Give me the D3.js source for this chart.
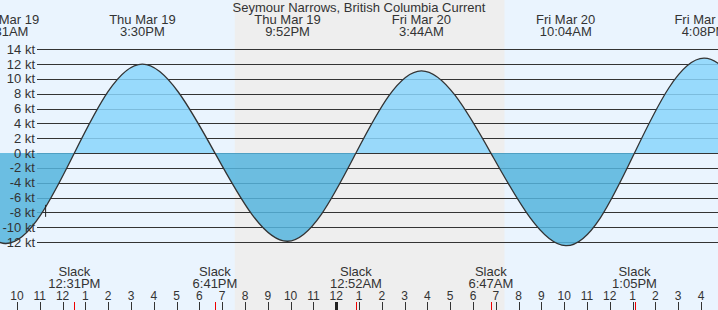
<!DOCTYPE html>
<html>
<head>
<meta charset="utf-8">
<script src="https://cdn.jsdelivr.net/npm/d3@7"></script>
<style>
  body { margin: 0; padding: 0; background: #fff; }
  svg { display: block; font-family: "Liberation Sans", Arial, sans-serif; }
</style>
</head>
<body>
<svg id="chart"></svg>
<script>
'use strict';
// tide current events (slack = 0, max flood > 0, max ebb < 0)
var eventTimes = ['2026-03-19 06:20', '2026-03-19 09:31', '2026-03-19 12:31', '2026-03-19 15:30',
    '2026-03-19 18:41', '2026-03-19 21:52', '2026-03-20 00:52', '2026-03-20 03:44',
    '2026-03-20 06:47', '2026-03-20 10:04', '2026-03-20 13:05', '2026-03-20 16:08', '2026-03-20 19:20'];
var eventValues = [0, -12.2, 0, 12.0, 0, -11.9, 0, 11.1, 0, -12.5, 0, 12.8, 0];
var yTicks = [14, 12, 10, 8, 6, 4, 2, 0, -2, -4, -6, -8, -10, -12];
var sunset = '2026-03-19 19:33';
var sunrise = '2026-03-20 07:23';
var nowTime = '2026-03-19 11:14';
var nowValue = -7.8;
var title = 'Seymour Narrows, British Columbia Current';

var canvasWidth = 718;
var canvasHeight = 310;
var parse = d3.timeParse('%Y-%m-%d %H:%M');

var svg = d3.select('#chart')
    .attr('width', canvasWidth)
    .attr('height', canvasHeight);

var data = eventTimes.map(function (t, i) {
    return { t: parse(t), v: eventValues[i] };
});

var xScale = d3.scaleTime()
    .domain([parse('2026-03-19 10:00'), parse('2026-03-20 16:00')])
    .range([17, 701]);
var yScale = d3.scaleLinear()
    .domain([-12, 14])
    .range([242, 49.3]);

// day / night background
svg.append('rect')
    .attr('width', canvasWidth).attr('height', canvasHeight)
    .attr('fill', '#eaf4fe');
svg.append('rect')
    .attr('x', xScale(parse(sunset)))
    .attr('width', xScale(parse(sunrise)) - xScale(parse(sunset)))
    .attr('height', canvasHeight)
    .attr('fill', '#eeeeee');

// grid lines
svg.selectAll('.grid')
    .data(yTicks)
    .enter().append('line')
    .attr('class', 'grid')
    .attr('x1', 37).attr('x2', canvasWidth)
    .attr('y1', function (d) { return Math.round(yScale(d)) + 0.5; })
    .attr('y2', function (d) { return Math.round(yScale(d)) + 0.5; })
    .attr('stroke', '#333')
    .attr('stroke-width', 1);

// clip above / below zero
var defs = svg.append('defs');
defs.append('clipPath').attr('id', 'flood')
    .append('rect').attr('x', 0).attr('y', 0)
    .attr('width', canvasWidth).attr('height', yScale(0));
defs.append('clipPath').attr('id', 'ebb')
    .append('rect').attr('x', 0).attr('y', yScale(0))
    .attr('width', canvasWidth).attr('height', canvasHeight - yScale(0));

var area = d3.area()
    .x(function (d) { return xScale(d.t); })
    .y0(yScale(0))
    .y1(function (d) { return yScale(d.v); })
    .curve(d3.curveNatural);
var line = d3.line()
    .x(function (d) { return xScale(d.t); })
    .y(function (d) { return yScale(d.v); })
    .curve(d3.curveNatural);

svg.append('path').datum(data)
    .attr('d', area)
    .attr('clip-path', 'url(#flood)')
    .attr('fill', 'rgb(138,213,252)')
    .attr('fill-opacity', 0.85);
svg.append('path').datum(data)
    .attr('d', area)
    .attr('clip-path', 'url(#ebb)')
    .attr('fill', 'rgb(85,180,221)')
    .attr('fill-opacity', 0.85);
svg.append('path').datum(data)
    .attr('d', line)
    .attr('fill', 'none')
    .attr('stroke', '#333')
    .attr('stroke-width', 1.3);

// current time marker
svg.append('line')
    .attr('x1', xScale(parse(nowTime)) + 0.5).attr('x2', xScale(parse(nowTime)) + 0.5)
    .attr('y1', yScale(nowValue) - 6).attr('y2', yScale(nowValue) + 6)
    .attr('stroke', '#222').attr('stroke-width', 1);

// y labels
svg.selectAll('.ylabel')
    .data(yTicks)
    .enter().append('text')
    .attr('class', 'ylabel')
    .attr('x', 35)
    .attr('y', function (d) { return yScale(d); })
    .attr('dy', '0.35em')
    .attr('text-anchor', 'end')
    .attr('font-size', 13)
    .attr('fill', '#333')
    .text(function (d) { return d + ' kt'; });

// title
svg.append('text')
    .attr('x', canvasWidth / 2).attr('y', 12)
    .attr('text-anchor', 'middle')
    .attr('font-size', 13)
    .attr('fill', '#333')
    .text(title);

var fmtDay = d3.timeFormat('%a %b %-d');
var fmtTime = d3.timeFormat('%-I:%M%p');

// max flood / ebb labels
var extremes = data.filter(function (d) { return d.v !== 0; });
var ext = svg.selectAll('.ext')
    .data(extremes)
    .enter().append('text')
    .attr('class', 'ext')
    .attr('text-anchor', 'middle')
    .attr('font-size', 13)
    .attr('fill', '#333');
ext.append('tspan')
    .attr('x', function (d) { return xScale(d.t); })
    .attr('y', 24)
    .text(function (d) { return fmtDay(d.t); });
ext.append('tspan')
    .attr('x', function (d) { return xScale(d.t); })
    .attr('y', 36)
    .text(function (d) { return fmtTime(d.t); });

// slack labels
var slacks = data.filter(function (d) { return d.v === 0; });
var sl = svg.selectAll('.slack')
    .data(slacks)
    .enter().append('text')
    .attr('class', 'slack')
    .attr('text-anchor', 'middle')
    .attr('font-size', 13)
    .attr('fill', '#333');
sl.append('tspan')
    .attr('x', function (d) { return xScale(d.t); })
    .attr('y', 276)
    .text('Slack');
sl.append('tspan')
    .attr('x', function (d) { return xScale(d.t); })
    .attr('y', 288)
    .text(function (d) { return fmtTime(d.t); });

// hour axis
var hours = d3.timeHour.range(xScale.invert(-20), xScale.invert(canvasWidth + 20));
svg.selectAll('.hour')
    .data(hours)
    .enter().append('text')
    .attr('class', 'hour')
    .attr('x', function (d) { return xScale(d); })
    .attr('y', 300)
    .attr('text-anchor', 'middle')
    .attr('font-size', 12)
    .attr('fill', '#333')
    .text(d3.timeFormat('%-I'));
svg.selectAll('.htick')
    .data(hours)
    .enter().append('line')
    .attr('class', 'htick')
    .attr('x1', function (d) { return Math.round(xScale(d)) + 0.5; })
    .attr('x2', function (d) { return Math.round(xScale(d)) + 0.5; })
    .attr('y1', 302).attr('y2', canvasHeight)
    .attr('stroke', function (d) { return d.getHours() === 0 ? '#222' : '#333'; })
    .attr('stroke-width', function (d) { return d.getHours() === 0 ? 3 : 1; });

// slack ticks
svg.selectAll('.stick')
    .data(slacks)
    .enter().append('line')
    .attr('class', 'stick')
    .attr('x1', function (d) { return Math.round(xScale(d.t)) + 0.5; })
    .attr('x2', function (d) { return Math.round(xScale(d.t)) + 0.5; })
    .attr('y1', 302).attr('y2', canvasHeight)
    .attr('stroke', '#e00')
    .attr('stroke-width', 1);
</script>
</body>
</html>
